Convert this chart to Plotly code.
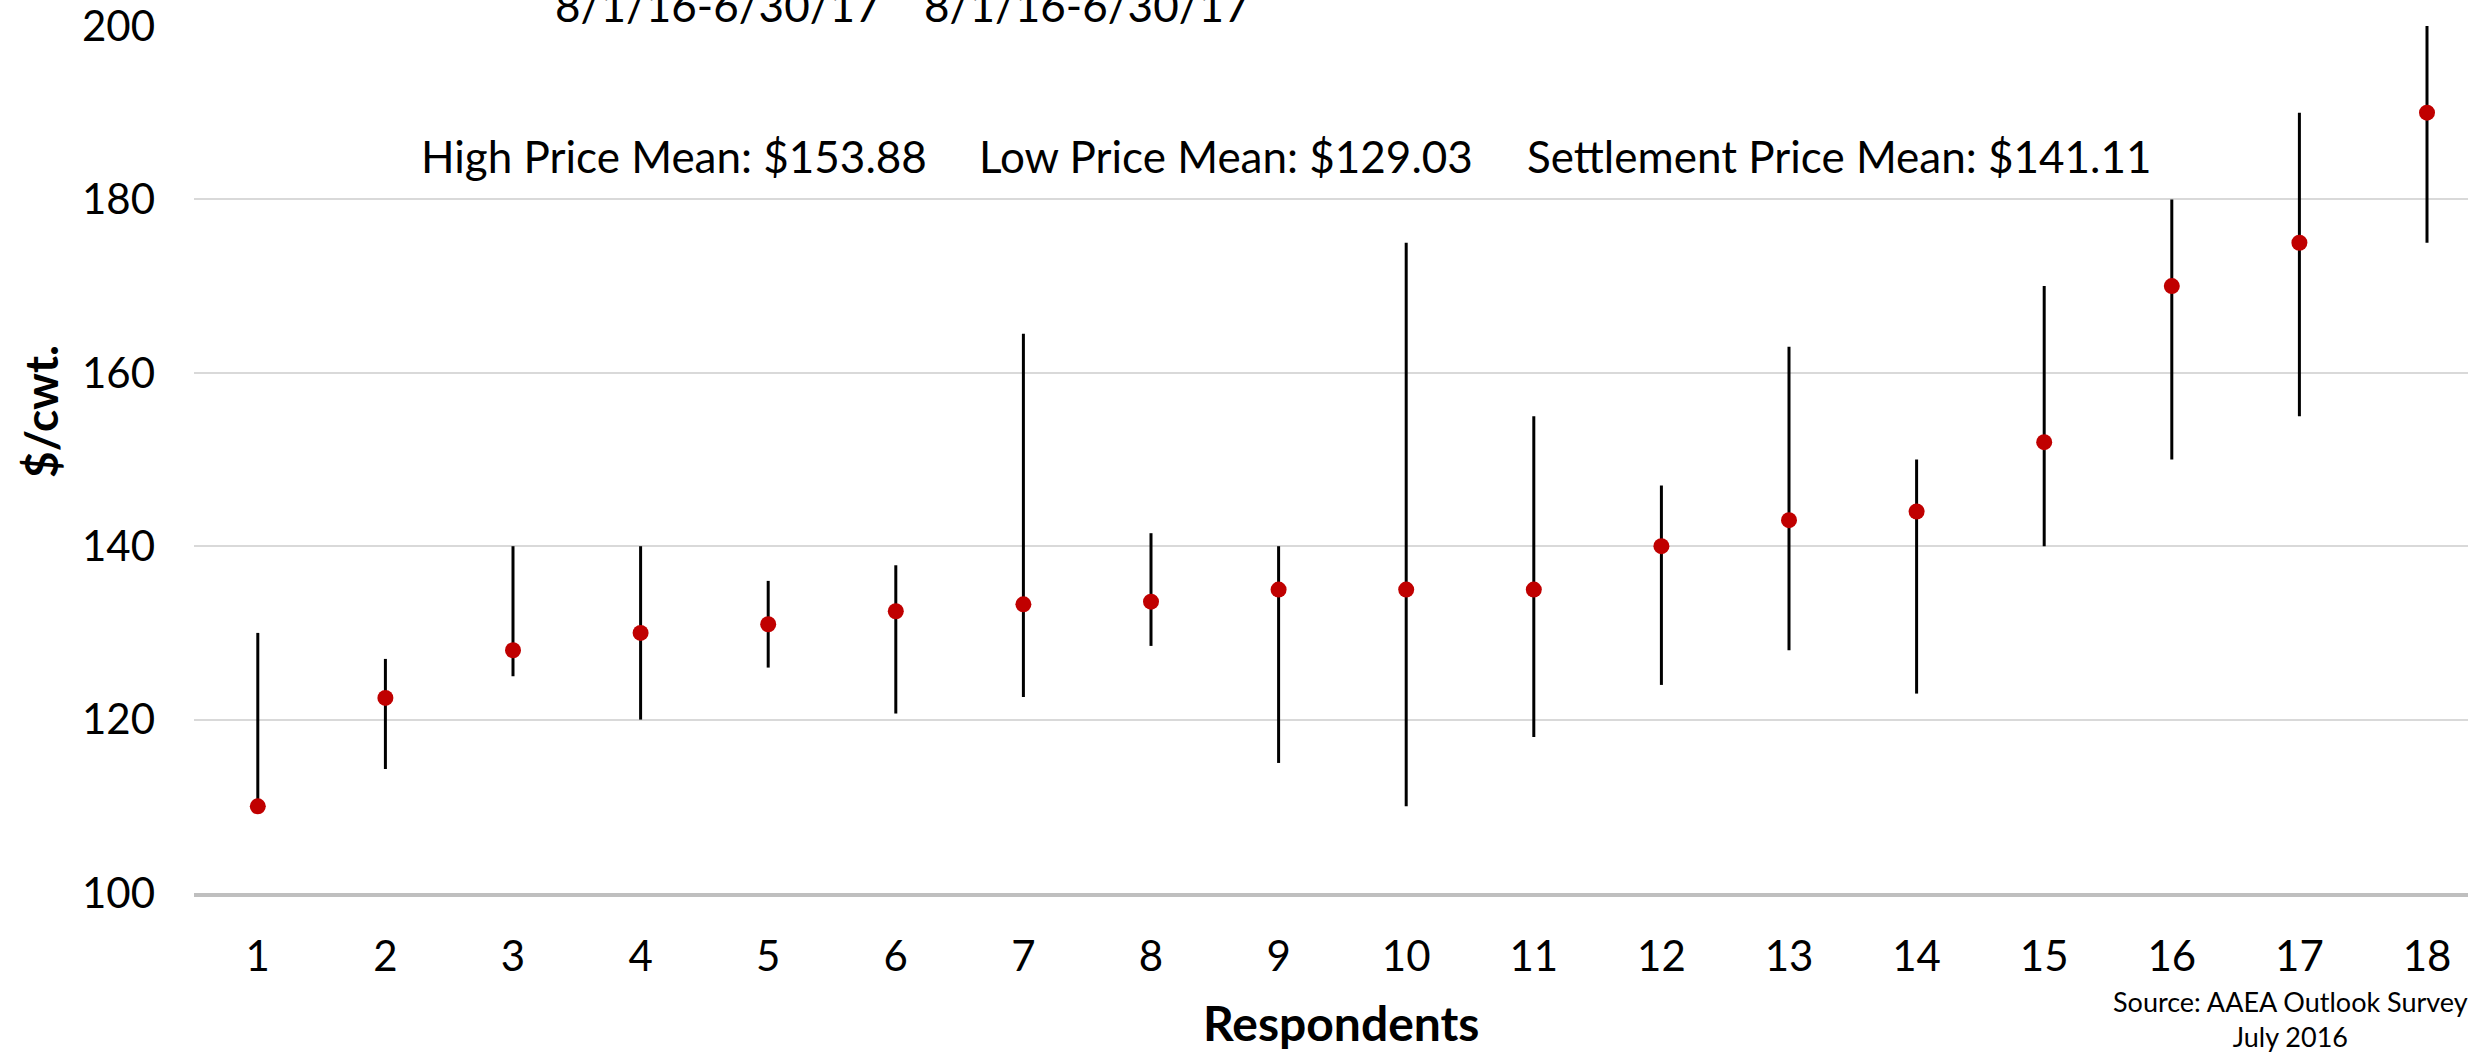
import plotly.graph_objects as go

# ---- data ----
respondents = [1, 2, 3, 4, 5, 6, 7, 8, 9, 10, 11, 12, 13, 14, 15, 16, 17, 18]
settlement = [110, 122.5, 128, 130, 131, 132.5, 133.3, 133.6, 135, 135, 135, 140, 143, 144, 152, 170, 175, 190]
high_price = [130, 127, 140, 140, 136, 137.8, 164.5, 141.5, 140, 175, 155, 147, 163, 150, 170, 180, 190, 200]
low_price = [110, 114.3, 125, 120, 126, 120.7, 122.6, 128.5, 115, 110, 118, 124, 128, 123, 140, 150, 155, 175]
y_ticks = [100, 120, 140, 160, 180, 200]
mean_labels = ["High Price Mean: $153.88", "Low Price Mean: $129.03", "Settlement Price Mean: $141.11"]
period_labels = ["8/1/16-6/30/17", "8/1/16-6/30/17"]

W, H = 2468, 1052
L = 194                      # plot left
T = 26                       # plot top
B = 893                      # plot bottom
PW, PH = W - L, B - T
FONT = "Lato"

def px(xw):  # window px -> paper x
    return (xw - L) / PW

def py(yw):  # window px -> paper y
    return (B - yw) / PH

err_plus = [h - s for h, s in zip(high_price, settlement)]
err_minus = [s - l for s, l in zip(settlement, low_price)]

fig = go.Figure()
fig.add_trace(go.Scatter(
    x=respondents, y=settlement, mode="markers",
    marker=dict(color="#C00000", size=16, line=dict(width=0)),
    error_y=dict(type="data", symmetric=False, array=err_plus, arrayminus=err_minus,
                 color="black", thickness=3, width=0),
    showlegend=False, cliponaxis=False,
))

annotations = []
mean_x = [419, 977, 1525]
for txt, xw in zip(mean_labels, mean_x):
    annotations.append(dict(text=txt, x=px(xw), y=py(156), xref="paper", yref="paper",
                            xanchor="left", yanchor="middle", showarrow=False,
                            font=dict(family=FONT, size=44, color="black")))
period_x = [718, 1087]
for txt, xw in zip(period_labels, period_x):
    annotations.append(dict(text=txt, x=px(xw), y=py(33), xref="paper", yref="paper",
                            xanchor="center", yanchor="bottom", showarrow=False,
                            font=dict(family=FONT, size=44, color="black")))
annotations.append(dict(text="<b>$/cwt.</b>", x=px(40), y=py(412), xref="paper", yref="paper",
                        xanchor="center", yanchor="middle", textangle=-90, showarrow=False,
                        font=dict(family=FONT, size=46, color="black")))
annotations.append(dict(text="<b>Respondents</b>", x=px(1341), y=py(1022), xref="paper", yref="paper",
                        xanchor="center", yanchor="middle", showarrow=False,
                        font=dict(family=FONT, size=48, color="black")))
annotations.append(dict(text="Source: AAEA Outlook Survey<br>July 2016", x=px(2290), y=py(1019),
                        xref="paper", yref="paper", xanchor="center", yanchor="middle",
                        align="center", showarrow=False,
                        font=dict(family=FONT, size=27, color="black")))

fig.update_layout(
    width=W, height=H,
    margin=dict(l=L, r=0, t=T, b=H - B, pad=0),
    paper_bgcolor="white", plot_bgcolor="white",
    font=dict(family=FONT, color="black"),
    annotations=annotations,
    xaxis=dict(range=[0.5, 0.5 + PW / 127.6], tickvals=respondents,
               ticktext=[str(r) for r in respondents],
               showgrid=False, zeroline=False, automargin=False,
               showline=True, linecolor="#BFBFBF", linewidth=3.5,
               ticks="", ticklabelstandoff=24, ticklabeloverflow="allow",
               tickfont=dict(family=FONT, size=42, color="black")),
    yaxis=dict(range=[100, 200], tickvals=y_ticks, showgrid=True, automargin=False,
               gridcolor="#D9D9D9", gridwidth=1.5, zeroline=False, showline=False,
               ticks="", ticklabelstandoff=38, ticklabeloverflow="allow",
               tickfont=dict(family=FONT, size=42, color="black")),
)

fig.write_html("out.html", config={"displayModeBar": False},
               post_script="document.body.style.margin='0';document.body.style.overflow='hidden';")
